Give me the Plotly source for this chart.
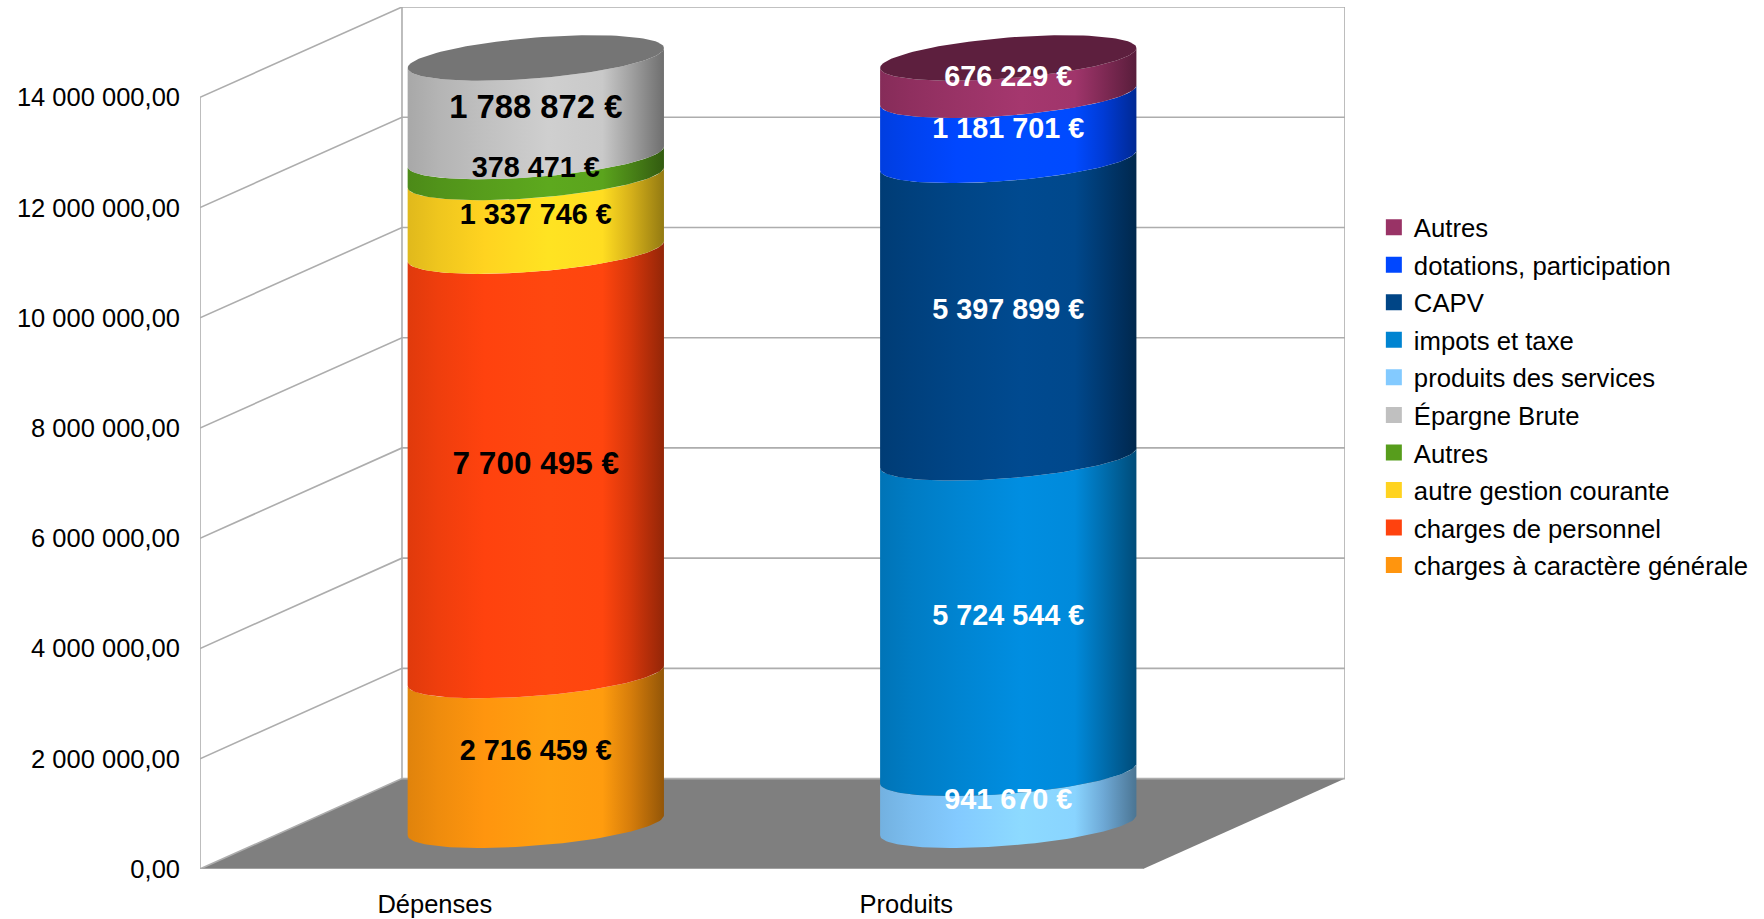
import numpy as np
import plotly.graph_objects as go

categories = ['Dépenses', 'Produits']
depenses_names = ['charges à caractère générale', 'charges de personnel', 'autre gestion courante', 'Autres', 'Épargne Brute']
depenses_values = [2716459, 7700495, 1337746, 378471, 1788872]
produits_names = ['produits des services', 'impots et taxe', 'CAPV', 'dotations, participation', 'Autres']
produits_values = [941670, 5724544, 5397899, 1181701, 676229]
y_ticks = [0, 2000000, 4000000, 6000000, 8000000, 10000000, 12000000, 14000000]

depenses_colors = ['#FF950E', '#FF420E', '#FFD320', '#579D1C', '#C0C0C0']
produits_colors = ['#83CAFF', '#0084D1', '#004586', '#0047FF', '#993366']
depenses_label_sizes = [28.8, 31.5, 28.8, 28.8, 32.8]
produits_label_sizes = [28.8, 28.8, 28.8, 28.8, 28.8]

FONT = 'Liberation Sans'
GRID = '#adadad'
# oblique projection, x in category units and y in euros
depth_x = 0.4284
depth_y = 1640000
half_w = 0.2718
ell_b = 370000
ell_tilt = 182000
cyl_shift = -27000
label_shift = -75000
# shading across a cylinder, left to right
shade = [[0, 0.88], [0.12, 0.94], [0.3, 1.0], [0.55, 1.08], [0.76, 1.05], [0.87, 0.84], [0.95, 0.68], [1, 0.58]]


def scaled(color, k):
    rgb = [int(color[i:i+2], 16) for i in (1, 3, 5)]
    return 'rgb(%d,%d,%d)' % tuple(min(255, int(c*k)) for c in rgb)


def ellipse(cx, level, t):
    x = cx + half_w*np.cos(t)
    y = level - ell_b*np.sin(t) + ell_tilt*np.cos(t)
    return x, y


fig = go.Figure()

# floor
fig.add_trace(go.Scatter(x=[0, 2, 2+depth_x, depth_x, 0], y=[0, 0, depth_y, depth_y, 0], mode='lines',
                         fill='toself', fillcolor='#7f7f7f', line=dict(width=0), hoverinfo='skip', showlegend=False))
# walls and grid
wx, wy = [], []
for v in y_ticks:
    wx += [0, depth_x, 2+depth_x, None]
    wy += [v, v+depth_y, v+depth_y, None]
wx += [0, 0, None, depth_x, depth_x, None, 2+depth_x, 2+depth_x, None, 0, 2]
wy += [0, y_ticks[-1], None, depth_y, y_ticks[-1]+depth_y, None, depth_y, y_ticks[-1]+depth_y, None, 0, 0]
fig.add_trace(go.Scatter(x=wx, y=wy, mode='lines', line=dict(color=GRID, width=1.6), cliponaxis=False,
                         hoverinfo='skip', showlegend=False))

# cylinders
front = np.linspace(np.pi, 0, 61)
around = np.linspace(0, 2*np.pi, 121)
stacks = [(0.498, depenses_values, depenses_colors, depenses_label_sizes, 'black'),
          (1.5, produits_values, produits_colors, produits_label_sizes, 'white')]
for pos, values, colors, sizes, txtcol in stacks:
    cx = pos + depth_x/2
    cy = depth_y/2 + cyl_shift
    tops = np.cumsum(values)
    bottoms = tops - np.array(values)
    for b, t, col in zip(bottoms, tops, colors):
        xb, yb = ellipse(cx, cy+b, front)
        xt, yt = ellipse(cx, cy+t, front)
        fig.add_trace(go.Scatter(x=np.r_[xb, xt[::-1], xb[0]], y=np.r_[yb, yt[::-1], yb[0]], mode='lines',
                                 fill='toself', line=dict(width=0), hoverinfo='skip', showlegend=False,
                                 fillgradient=dict(type='horizontal',
                                                   colorscale=[[p, scaled(col, k)] for p, k in shade])))
    xc, yc = ellipse(cx, cy+tops[-1], around)
    fig.add_trace(go.Scatter(x=xc, y=yc, mode='lines', fill='toself', fillcolor=scaled(colors[-1], 0.61),
                             line=dict(width=0), hoverinfo='skip', showlegend=False))

# labels on top of everything
for pos, values, colors, sizes, txtcol in stacks:
    tops = np.cumsum(values)
    mids = tops - np.array(values)/2
    fig.add_trace(go.Scatter(x=[pos+depth_x/2]*len(values), y=mids+depth_y/2+label_shift, mode='text',
                             text=[f'{v:,} €'.replace(',', ' ') for v in values],
                             textposition='middle center', cliponaxis=False, hoverinfo='skip', showlegend=False,
                             textfont=dict(family=FONT, size=sizes, color=txtcol, weight='bold')))

# legend, last series first
legend_names = produits_names[::-1] + depenses_names[::-1]
legend_colors = produits_colors[::-1] + depenses_colors[::-1]
for i, (name, col) in enumerate(zip(legend_names, legend_colors)):
    fig.add_trace(go.Scatter(x=[None], y=[None], mode='markers', name=name, legendgroup=f'g{i}',
                             marker=dict(symbol='square', size=16, color=col)))

fig.update_layout(width=1764, height=919, paper_bgcolor='white', plot_bgcolor='white',
                  separators=', ', hovermode=False,
                  margin=dict(l=200, r=419, t=7, b=50, autoexpand=False),
                  font=dict(family=FONT, size=25.5, color='black'),
                  legend=dict(x=1.0252, y=0.7715, xanchor='left', yanchor='top', tracegroupgap=1.14,
                              font=dict(family=FONT, size=25.7, color='black'), bgcolor='rgba(0,0,0,0)'))
fig.update_xaxes(range=[0, 2+depth_x], tickmode='array', tickvals=[0.498, 1.498], ticktext=categories,
                 showgrid=False, zeroline=False, showline=False, ticks='', ticklabelstandoff=17)
fig.update_yaxes(range=[0, y_ticks[-1]+depth_y], tickmode='array', tickvals=y_ticks, tickformat=',.2f',
                 showgrid=False, zeroline=False, showline=False, ticks='', ticklabelstandoff=19)
fig.write_html('out.html', config={'displayModeBar': False}, post_script="document.body.style.margin='0';")
